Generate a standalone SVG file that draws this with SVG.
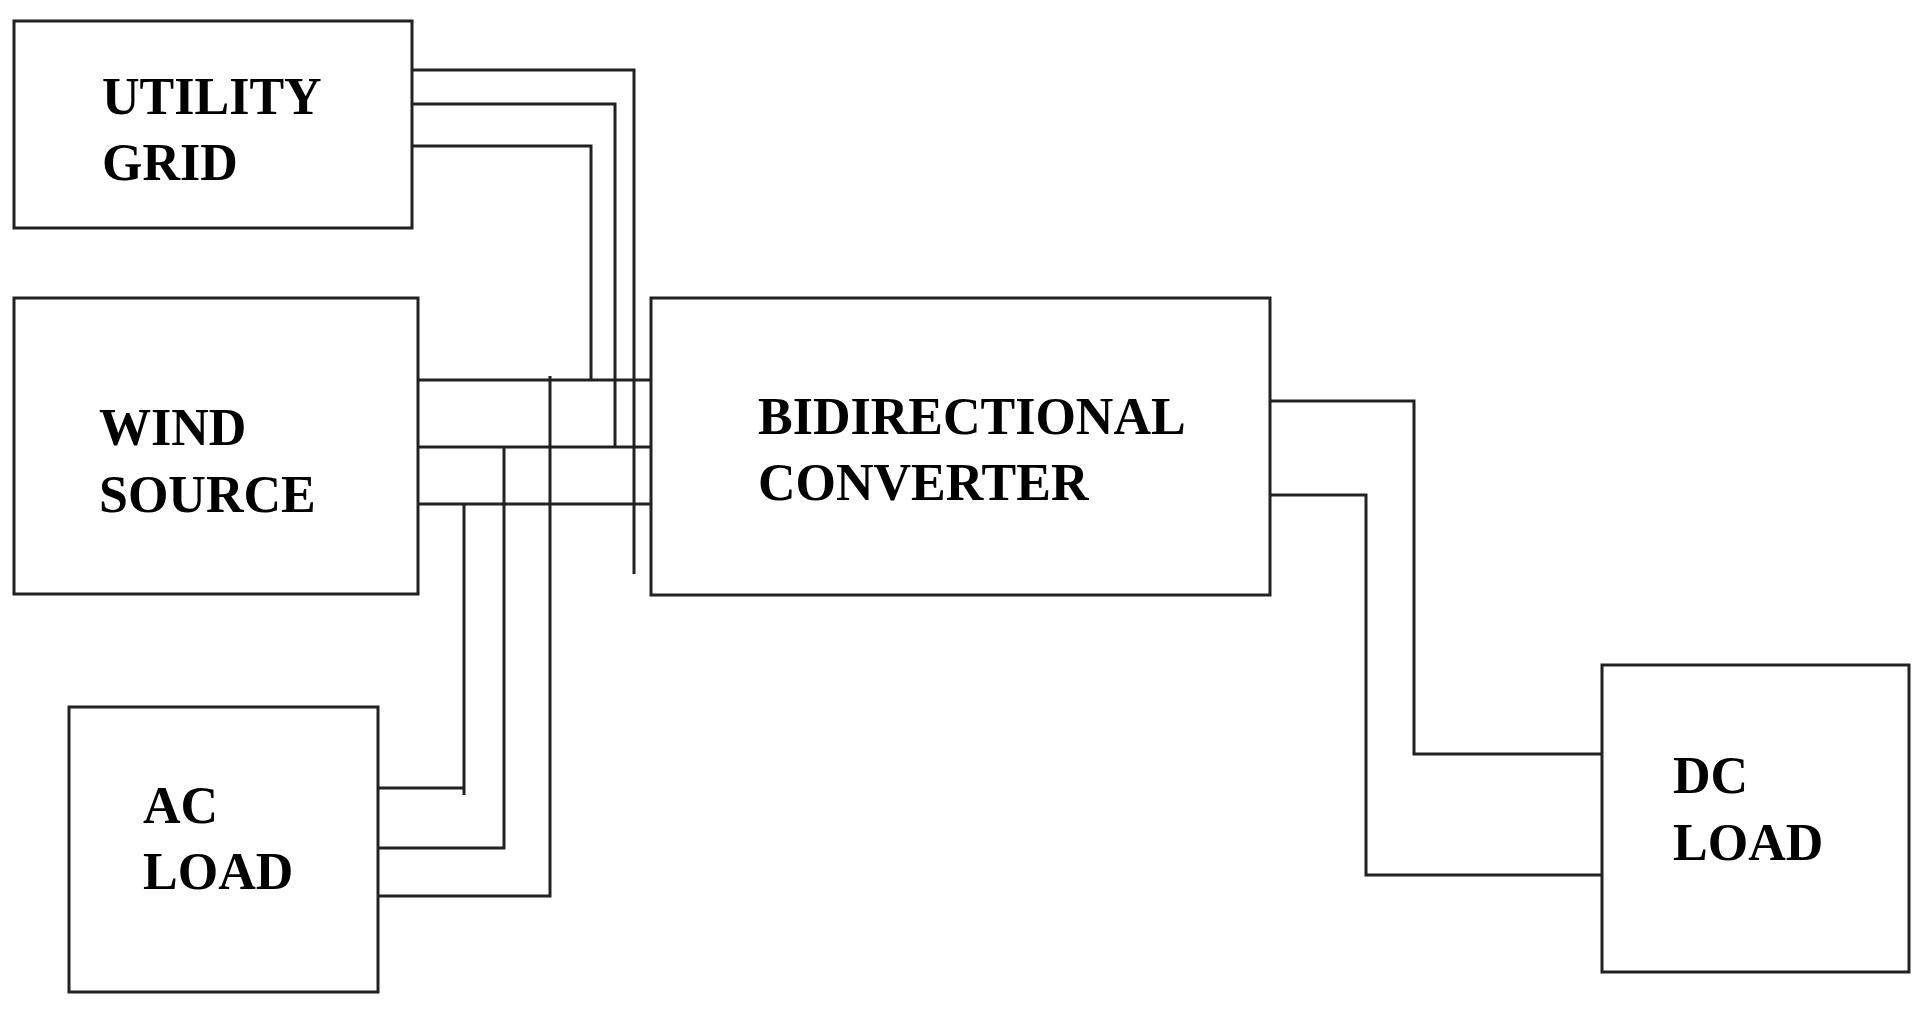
<svg xmlns="http://www.w3.org/2000/svg" width="1930" height="1014" viewBox="0 0 1930 1014">
<style>
.box{fill:#fff;stroke:#222;stroke-width:3}
.w{fill:none;stroke:#222;stroke-width:3}
text{font-family:"Liberation Serif","Times New Roman",serif;font-weight:bold;font-size:52px;fill:#000}
</style>
<rect width="1930" height="1014" fill="#fff"/>
<g id="connectors">
<path class="w" d="M412 70H634V574M412 104H615V447M412 146H591V380"/>
<path class="w" d="M418 380H651M418 447H651M418 504H655"/>
<path class="w" d="M550 376V896H378M504 447V848H378M464 504V795M464 788H378"/>
<path class="w" d="M1270 401H1414V754H1602M1270 495H1366V875H1604"/>
</g>
<g id="utility"><rect class="box" x="14" y="21" width="398" height="207"/><text x="102" y="114">UTILITY</text><text x="102" y="180">GRID</text></g>
<g id="wind"><rect class="box" x="14" y="298" width="404" height="296"/><text x="99" y="445">WIND</text><text x="99" y="512">SOURCE</text></g>
<g id="acload"><rect class="box" x="69" y="707" width="309" height="285"/><text x="143" y="823">AC</text><text x="143" y="889">LOAD</text></g>
<g id="converter"><rect class="box" x="651" y="298" width="619" height="297"/><text x="758" y="434">BIDIRECTIONAL</text><text x="758" y="500">CONVERTER</text></g>
<g id="dcload"><rect class="box" x="1602" y="665" width="307" height="307"/><text x="1673" y="793">DC</text><text x="1673" y="860">LOAD</text></g>
</svg>
